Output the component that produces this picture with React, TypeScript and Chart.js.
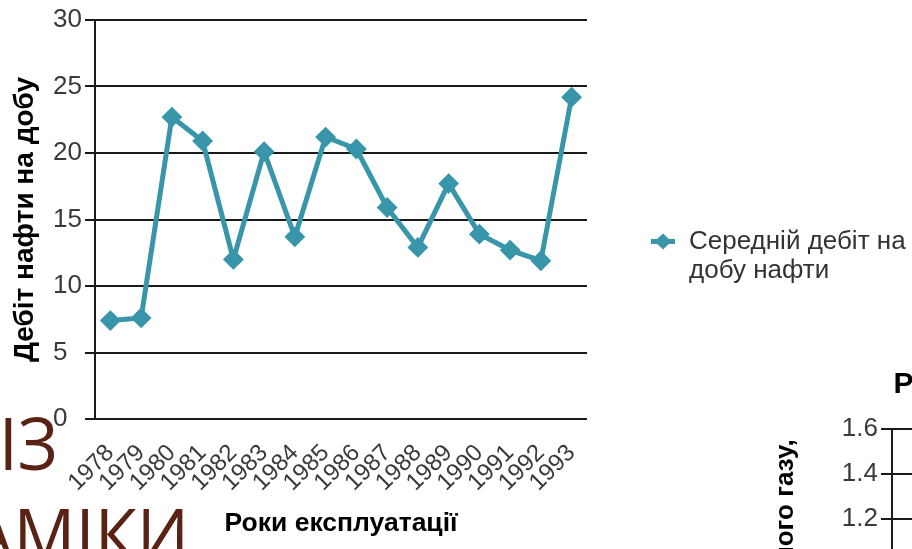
import { useEffect, useRef } from "react";
import { Chart, registerables } from "chart.js";

Chart.register(...registerables);

// Oil production data
const years = ["1978", "1979", "1980", "1981", "1982", "1983", "1984", "1985", "1986", "1987", "1988", "1989", "1990", "1991", "1992", "1993"];
const oilRate = [7.4, 7.6, 22.7, 20.9, 12.0, 20.1, 13.7, 21.2, 20.3, 15.9, 12.9, 17.7, 13.9, 12.7, 11.9, 24.2];
const oilSeriesLines = ["Середній дебіт на", "добу нафти"];
const oilAxisTitle = "Дебіт нафти на добу";
const yearAxisTitle = "Роки експлуатації";
const oilMin = 0;
const oilMax = 30;
const oilStep = 5;

// Gas chart (second panel)
const gasTitle = "Ряд1";
const gasAxisTitle = "Дебіт природного газу,";
const gasMin = 0.2;
const gasMax = 1.6;
const gasStep = 0.2;

// Slide heading, one entry per line with the x where each line ends
const headingLines = ["АНАЛІЗ", "ДИНАМІКИ"];
const headingLineEnds = [58, 189];

const TEAL = "#3895aa";
const FONT = "'Liberation Sans', Arial, sans-serif";
const GRID = "#1a1a1a";

function legendMarker(color: string) {
  const c = document.createElement("canvas");
  c.width = 24;
  c.height = 17;
  const ctx = c.getContext("2d")!;
  ctx.strokeStyle = color;
  ctx.lineWidth = 5;
  ctx.beginPath();
  ctx.moveTo(0, 8.5);
  ctx.lineTo(24, 8.5);
  ctx.stroke();
  ctx.fillStyle = color;
  ctx.beginPath();
  ctx.moveTo(12, 0.5);
  ctx.lineTo(20.5, 8.5);
  ctx.lineTo(12, 16.5);
  ctx.lineTo(3.5, 8.5);
  ctx.closePath();
  ctx.fill();
  return c;
}

export default function App() {
  const oilRef = useRef<HTMLCanvasElement>(null);
  const gasRef = useRef<HTMLCanvasElement>(null);

  useEffect(() => {
    const marker = legendMarker(TEAL);
    const legendShift = {
      id: "legendShift",
      afterLayout(chart: any) {
        const l = chart.legend;
        if (l) {
          l.top -= 27;
          l.bottom -= 27;
        }
      },
    };

    const oil = new Chart(oilRef.current!, {
      type: "line",
      data: {
        labels: years,
        datasets: [
          {
            label: oilSeriesLines.join(" "),
            data: oilRate,
            borderColor: TEAL,
            backgroundColor: TEAL,
            borderWidth: 5,
            pointStyle: "rectRot",
            pointRadius: 9,
            pointBorderWidth: 2,
            pointBackgroundColor: TEAL,
            pointBorderColor: TEAL,
            tension: 0,
          },
        ],
      },
      plugins: [legendShift],
      options: {
        responsive: false,
        animation: false,
        // left padding leaves room for the y title; tick labels start at the axis box's left edge
        layout: { padding: { top: 20, left: 53 } },
        plugins: {
          tooltip: { enabled: false },
          legend: {
            position: "right",
            maxWidth: 325,
            labels: {
              usePointStyle: true,
              padding: 63,
              color: "#333",
              font: { family: FONT, size: 26, lineHeight: 1.12 },
              generateLabels: (chart: any) => {
                const items = (Chart.defaults.plugins.legend.labels as any).generateLabels(chart);
                return items.map((it: any) => ({ ...it, text: oilSeriesLines, pointStyle: marker }));
              },
            },
          },
        },
        scales: {
          x: {
            type: "category",
            offset: true,
            grid: { display: false, drawTicks: false },
            border: { display: false },
            ticks: {
              autoSkip: false,
              minRotation: 45,
              maxRotation: 45,
              padding: 20,
              color: "#3a3a3a",
              font: { family: FONT, size: 24 },
            },
            title: {
              display: true,
              text: yearAxisTitle,
              color: "#000",
              font: { family: FONT, size: 26.5, weight: "bold" },
              padding: { top: 0, bottom: 9 },
            },
            afterFit: (s: any) => {
              s.height = 130;
            },
          },
          y: {
            min: oilMin,
            max: oilMax,
            ticks: {
              stepSize: oilStep,
              padding: 3,
              crossAlign: "far",
              color: "#3a3a3a",
              font: { family: FONT, size: 26 },
            },
            grid: { color: GRID, lineWidth: 2, tickLength: 10 },
            border: { color: GRID, width: 2 },
            title: {
              display: true,
              text: oilAxisTitle,
              color: "#000",
              font: { family: FONT, size: 28, weight: "bold" },
              padding: { top: -45, bottom: 0 },
            },
            afterFit: (s: any) => {
              s.width = 42;
            },
          },
        },
      },
    } as any);

    const gas = new Chart(gasRef.current!, {
      type: "line",
      data: { labels: years, datasets: [] },
      options: {
        responsive: false,
        animation: false,
        plugins: {
          tooltip: { enabled: false },
          legend: { display: false },
          title: {
            display: true,
            text: gasTitle,
            color: "#000",
            font: { family: FONT, size: 30, weight: "bold" },
            padding: { top: 17, bottom: 26 },
          },
        },
        scales: {
          x: {
            type: "category",
            grid: { display: false },
            border: { display: false },
            ticks: { display: false },
            afterFit: (s: any) => {
              s.height = 60;
            },
          },
          y: {
            min: gasMin,
            max: gasMax,
            ticks: {
              stepSize: gasStep,
              padding: 3,
              color: "#3a3a3a",
              font: { family: FONT, size: 26 },
              callback: (v: any) => Number(v).toFixed(1),
            },
            grid: { color: GRID, lineWidth: 2, tickLength: 11 },
            border: { color: GRID, width: 2 },
            title: {
              display: true,
              text: gasAxisTitle,
              color: "#000",
              font: { family: FONT, size: 26, weight: "bold" },
              padding: { top: 30, bottom: 0 },
            },
            afterFit: (s: any) => {
              s.width = 152;
            },
          },
        },
      },
    } as any);

    return () => {
      oil.destroy();
      gas.destroy();
    };
  }, []);

  return (
    <div
      style={{
        position: "fixed",
        left: 0,
        top: 0,
        width: 912,
        height: 549,
        overflow: "hidden",
        background: "#fff",
      }}
    >
      <canvas
        ref={oilRef}
        width={912}
        height={549}
        style={{ position: "absolute", left: 0, top: 0, width: 912, height: 549 }}
      />
      <canvas
        ref={gasRef}
        width={380}
        height={454}
        style={{ position: "absolute", left: 740, top: 350, width: 380, height: 454 }}
      />
      {headingLines.map((t, i) => (
        <div
          key={t}
          style={{
            position: "absolute",
            left: headingLineEnds[i] - 600,
            width: 600,
            top: 396 + i * 91,
            textAlign: "right",
            fontFamily: "'Open Sans', sans-serif",
            fontSize: 74,
            lineHeight: "91px",
            color: "#5a2214",
            whiteSpace: "nowrap",
            pointerEvents: "none",
            transform: "scaleX(0.93)",
            transformOrigin: "100% 50%",
          }}
        >
          {t}
        </div>
      ))}
    </div>
  );
}
